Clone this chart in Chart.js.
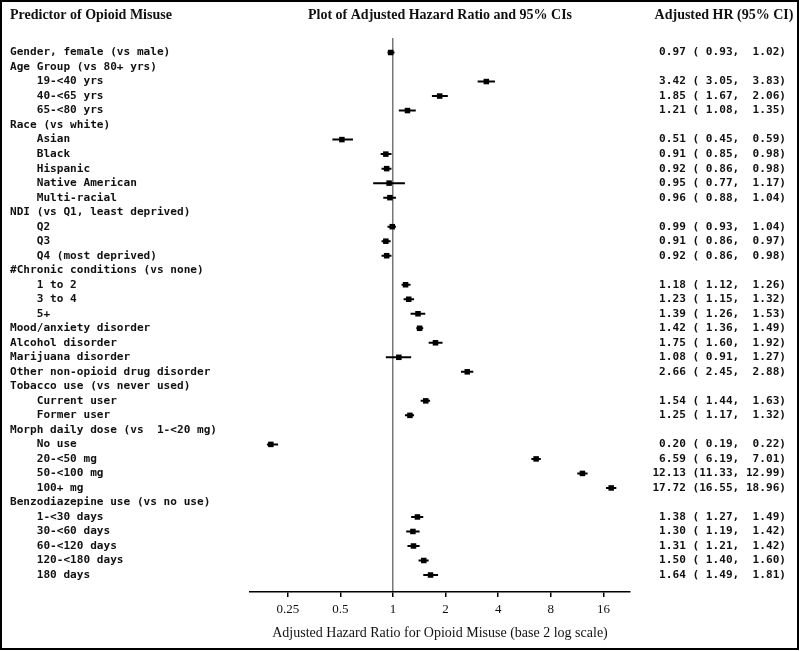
<!DOCTYPE html>
<html>
<head>
<meta charset="utf-8">
<script src="https://cdn.jsdelivr.net/npm/chart.js@4"></script>
<style>
  body { margin: 0; background: #fff; }
  canvas { display: block; }
</style>
</head>
<body>
<canvas id="forest" width="800" height="651"></canvas>
<script>
// forest plot: adjusted hazard ratios for opioid misuse

const labels = [
    'Gender, female (vs male)',
    'Age Group (vs 80+ yrs)',
    '    19-<40 yrs',
    '    40-<65 yrs',
    '    65-<80 yrs',
    'Race (vs white)',
    '    Asian',
    '    Black',
    '    Hispanic',
    '    Native American',
    '    Multi-racial',
    'NDI (vs Q1, least deprived)',
    '    Q2',
    '    Q3',
    '    Q4 (most deprived)',
    '#Chronic conditions (vs none)',
    '    1 to 2',
    '    3 to 4',
    '    5+',
    'Mood/anxiety disorder',
    'Alcohol disorder',
    'Marijuana disorder',
    'Other non-opioid drug disorder',
    'Tobacco use (vs never used)',
    '    Current user',
    '    Former user',
    'Morph daily dose (vs  1-<20 mg)',
    '    No use',
    '    20-<50 mg',
    '    50-<100 mg',
    '    100+ mg',
    'Benzodiazepine use (vs no use)',
    '    1-<30 days',
    '    30-<60 days',
    '    60-<120 days',
    '    120-<180 days',
    '    180 days'
];

const hr = [0.97, null, 3.42, 1.85, 1.21, null, 0.51, 0.91, 0.92, 0.95, 0.96,
    null, 0.99, 0.91, 0.92, null, 1.18, 1.23, 1.39, 1.42, 1.75, 1.08, 2.66,
    null, 1.54, 1.25, null, 0.20, 6.59, 12.13, 17.72, null, 1.38, 1.30, 1.31, 1.50, 1.64];
const lower = [0.93, null, 3.05, 1.67, 1.08, null, 0.45, 0.85, 0.86, 0.77, 0.88,
    null, 0.93, 0.86, 0.86, null, 1.12, 1.15, 1.26, 1.36, 1.60, 0.91, 2.45,
    null, 1.44, 1.17, null, 0.19, 6.19, 11.33, 16.55, null, 1.27, 1.19, 1.21, 1.40, 1.49];
const upper = [1.02, null, 3.83, 2.06, 1.35, null, 0.59, 0.98, 0.98, 1.17, 1.04,
    null, 1.04, 0.97, 0.98, null, 1.26, 1.32, 1.53, 1.49, 1.92, 1.27, 2.88,
    null, 1.63, 1.32, null, 0.22, 7.01, 12.99, 18.96, null, 1.49, 1.42, 1.42, 1.60, 1.81];

const xTicks = [0.25, 0.5, 1, 2, 4, 8, 16];

const monoFont = { family: '"DejaVu Sans Mono", monospace', size: 11.1, weight: 'bold' };
const serif = '"Liberation Serif", "Times New Roman", serif';

function fmt(v) {
    return v.toFixed(2).padStart(5, ' ');
}

// point estimates and CI segments (null x breaks the line between rows)
const points = [];
const ciSegs = [];
hr.forEach((v, i) => {
    if (v === null) return;
    points.push({ x: v, y: i + 1 });
    ciSegs.push({ x: lower[i], y: i + 1 });
    ciSegs.push({ x: upper[i], y: i + 1 });
    ciSegs.push({ x: null, y: i + 1 });
});

const rowTicks = labels.map((l, i) => ({ value: i + 1 }));

const headerPlugin = {
    id: 'headers',
    afterDraw(chart) {
        const ctx = chart.ctx;
        ctx.save();
        ctx.fillStyle = '#111';
        ctx.font = 'bold 14px ' + serif;
        ctx.textBaseline = 'middle';
        ctx.textAlign = 'left';
        ctx.fillText('Predictor of Opioid Misuse', 10, 15);
        ctx.textAlign = 'center';
        ctx.fillText('Plot of Adjusted Hazard Ratio and 95% CIs', 440, 15);
        ctx.fillText('Adjusted HR (95% CI)', 724, 15);
        // outer frame
        ctx.strokeStyle = '#000';
        ctx.lineWidth = 2;
        ctx.strokeRect(1, 1, 797, 648);
        ctx.restore();
    }
};

new Chart(document.getElementById('forest').getContext('2d'), {
    type: 'scatter',
    data: {
        datasets: [{
            type: 'line',
            data: ciSegs,
            borderColor: '#000',
            borderWidth: 2,
            pointRadius: 0,
            spanGaps: false,
            order: 2
        }, {
            data: points,
            pointStyle: 'rect',
            pointRadius: 3.9,
            backgroundColor: '#000',
            borderWidth: 0,
            order: 1
        }]
    },
    options: {
        responsive: false,
        animation: false,
        layout: { padding: { top: 38, left: 10, right: 14, bottom: 0 } },
        plugins: {
            legend: { display: false },
            tooltip: { enabled: false }
        },
        scales: {
            x: {
                type: 'logarithmic',
                min: 0.152,
                max: 22.7,
                afterBuildTicks: scale => { scale.ticks = xTicks.map(v => ({ value: v })); },
                afterFit: scale => { scale.height = 59; },
                border: { color: '#000', width: 1.5 },
                grid: {
                    color: c => (c.tick && c.tick.value === 1) ? '#777' : 'rgba(0,0,0,0)',
                    lineWidth: 1.5,
                    tickColor: '#000',
                    tickLength: 5
                },
                ticks: {
                    autoSkip: false,
                    maxRotation: 0,
                    padding: 5,
                    color: '#111',
                    font: { family: serif, size: 13 },
                    callback: v => String(v)
                },
                title: {
                    display: true,
                    text: 'Adjusted Hazard Ratio for Opioid Misuse (base 2 log scale)',
                    color: '#111',
                    font: { family: serif, size: 14 },
                    padding: { top: 0, bottom: 9 }
                }
            },
            y: {
                type: 'linear',
                position: 'left',
                reverse: true,
                min: 0,
                max: 38.17,
                afterBuildTicks: scale => { scale.ticks = rowTicks.map(t => ({ value: t.value })); },
                afterFit: scale => { scale.width = 240; },
                border: { display: false },
                grid: { display: false, drawTicks: false },
                ticks: {
                    autoSkip: false,
                    crossAlign: 'far',
                    padding: 0,
                    color: '#111',
                    font: monoFont,
                    callback: v => labels[v - 1] || ''
                }
            },
            yRight: {
                type: 'linear',
                position: 'right',
                reverse: true,
                min: 0,
                max: 38.17,
                afterBuildTicks: scale => { scale.ticks = rowTicks.map(t => ({ value: t.value })); },
                afterFit: scale => { scale.width = 156; },
                border: { display: false },
                grid: { display: false, drawTicks: false },
                ticks: {
                    autoSkip: false,
                    crossAlign: 'far',
                    padding: 0,
                    color: '#111',
                    font: monoFont,
                    callback: v => {
                        const i = v - 1;
                        if (hr[i] === null || hr[i] === undefined) return '';
                        return fmt(hr[i]) + ' (' + fmt(lower[i]) + ', ' + fmt(upper[i]) + ')';
                    }
                }
            }
        }
    },
    plugins: [headerPlugin]
});
</script>
</body>
</html>
